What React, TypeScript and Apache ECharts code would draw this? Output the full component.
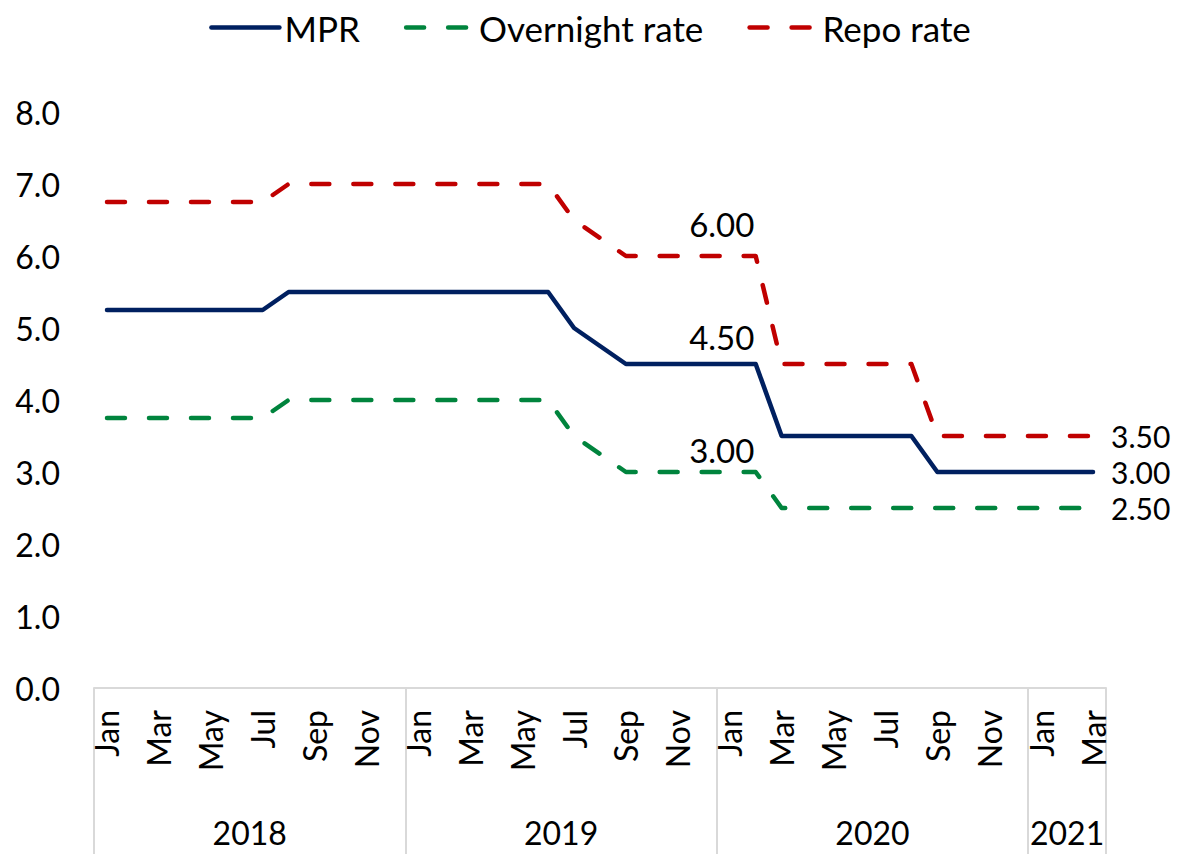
import React, { useEffect, useRef } from 'react';
import * as echarts from 'echarts';

const monthNames = ['Jan','Feb','Mar','Apr','May','Jun','Jul','Aug','Sep','Oct','Nov','Dec'];
const years = ['2018', '2019', '2020', '2021'];
const yearMonthCounts = [12, 12, 12, 3];

const months: string[] = [];
years.forEach((y, yi) => {
  for (let m = 0; m < yearMonthCounts[yi]; m++) months.push(monthNames[m] + ' ' + y);
});

const mpr = [
  5.25, 5.25, 5.25, 5.25, 5.25, 5.25, 5.25, 5.5, 5.5, 5.5, 5.5, 5.5,
  5.5, 5.5, 5.5, 5.5, 5.5, 5.5, 5.0, 4.75, 4.5, 4.5, 4.5, 4.5,
  4.5, 4.5, 3.5, 3.5, 3.5, 3.5, 3.5, 3.5, 3.0, 3.0, 3.0, 3.0,
  3.0, 3.0, 3.0,
];
const overnight = [
  3.75, 3.75, 3.75, 3.75, 3.75, 3.75, 3.75, 4.0, 4.0, 4.0, 4.0, 4.0,
  4.0, 4.0, 4.0, 4.0, 4.0, 4.0, 3.5, 3.25, 3.0, 3.0, 3.0, 3.0,
  3.0, 3.0, 2.5, 2.5, 2.5, 2.5, 2.5, 2.5, 2.5, 2.5, 2.5, 2.5,
  2.5, 2.5, 2.5,
];
const repo = [
  6.75, 6.75, 6.75, 6.75, 6.75, 6.75, 6.75, 7.0, 7.0, 7.0, 7.0, 7.0,
  7.0, 7.0, 7.0, 7.0, 7.0, 7.0, 6.5, 6.25, 6.0, 6.0, 6.0, 6.0,
  6.0, 6.0, 4.5, 4.5, 4.5, 4.5, 4.5, 4.5, 3.5, 3.5, 3.5, 3.5,
  3.5, 3.5, 3.5,
];
const yTicks = { min: 0, max: 8, interval: 1 };
const labelledMonth = 'Jan 2020';

const FONT = 'Lato';

export default function App() {
  const ref = useRef<HTMLDivElement>(null);
  useEffect(() => {
    if (!ref.current) return;
    const chart = echarts.init(ref.current, undefined, { renderer: 'svg' });
    const midIdx = months.indexOf(labelledMonth);
    const lastIdx = months.length - 1;

    const boundaries: number[] = [];
    const centers: number[] = [];
    let acc = 0;
    yearMonthCounts.forEach((c) => {
      boundaries.push(acc - 0.5);
      centers.push(acc + c / 2 - 0.5);
      acc += c;
    });
    boundaries.push(acc - 0.5);

    const makeData = (arr: number[], midDist: number) =>
      arr.map((v, i) => {
        if (i === midIdx)
          return {
            value: v,
            label: { show: true, position: 'top', distance: midDist, offset: [-8, 0] },
          };
        if (i === lastIdx)
          return {
            value: v,
            label: { show: true, position: 'right', distance: 18, fontSize: 30, lineHeight: 30 },
          };
        return v;
      });

    const labelStyle = {
      show: false,
      formatter: (p: any) => Number(p.value).toFixed(2),
      fontSize: 33,
      lineHeight: 32,
      fontFamily: FONT,
      color: '#000',
    };

    const mk = (name: string, arr: number[], color: string, dashed: boolean, midDist: number) => ({
      name,
      type: 'line',
      data: makeData(arr, midDist),
      symbol: 'circle',
      symbolSize: 0,
      showSymbol: true,
      showAllSymbol: true,
      xAxisIndex: 0,
      label: labelStyle,
      lineStyle: {
        color,
        width: 4.5,
        type: dashed ? [18, 24] : 'solid',
        cap: 'round',
        join: 'round',
      },
      itemStyle: { color },
      emphasis: { disabled: true },
    });

    chart.setOption({
      animation: false,
      legend: {
        data: ['MPR', 'Overnight rate', 'Repo rate'],
        top: 5,
        left: 'center',
        itemWidth: 68,
        itemHeight: 12,
        itemGap: 44,
        itemStyle: { opacity: 0 },
        lineStyle: { width: 4.5 },
        textStyle: { fontSize: 35, fontFamily: FONT, color: '#000' },
      },
      grid: { left: 94, right: 74, top: 112, bottom: 166 },
      xAxis: [
        {
          type: 'category',
          data: months,
          boundaryGap: true,
          position: 'bottom',
          axisLine: { show: true, lineStyle: { color: '#D9D9D9', width: 2 } },
          axisTick: { show: false },
          splitLine: { show: false },
          axisLabel: {
            interval: 1,
            rotate: 90,
            margin: 22,
            fontSize: 32,
            fontFamily: FONT,
            color: '#000',
            formatter: (v: string) => v.split(' ')[0],
          },
        },
        {
          type: 'value',
          min: boundaries[0],
          max: boundaries[boundaries.length - 1],
          position: 'bottom',
          axisLine: { show: false },
          splitLine: { show: false },
          axisTick: {
            show: true,
            customValues: boundaries,
            length: 166,
            lineStyle: { color: '#D9D9D9', width: 2 },
          },
          axisLabel: {
            show: true,
            customValues: centers,
            margin: 128,
            fontSize: 32,
            fontFamily: FONT,
            color: '#000',
            formatter: (v: number) => {
              const k = centers.findIndex((c) => Math.abs(c - v) < 0.01);
              return k >= 0 ? years[k] : '';
            },
          },
        },
      ],
      yAxis: {
        type: 'value',
        min: yTicks.min,
        max: yTicks.max,
        interval: yTicks.interval,
        axisLine: { show: false },
        axisTick: { show: false },
        splitLine: { show: false },
        axisLabel: {
          margin: 34,
          fontSize: 32,
          fontFamily: FONT,
          color: '#000',
          formatter: (v: number) => v.toFixed(1),
        },
      },
      series: [
        mk('MPR', mpr, '#002060', false, 11),
        mk('Overnight rate', overnight, '#00843D', true, 6),
        mk('Repo rate', repo, '#C00000', true, 16),
      ],
    });
    return () => chart.dispose();
  }, []);
  return (
    <div
      ref={ref}
      style={{ position: 'absolute', left: 0, top: 0, width: 1180, height: 854, background: '#fff' }}
    />
  );
}
